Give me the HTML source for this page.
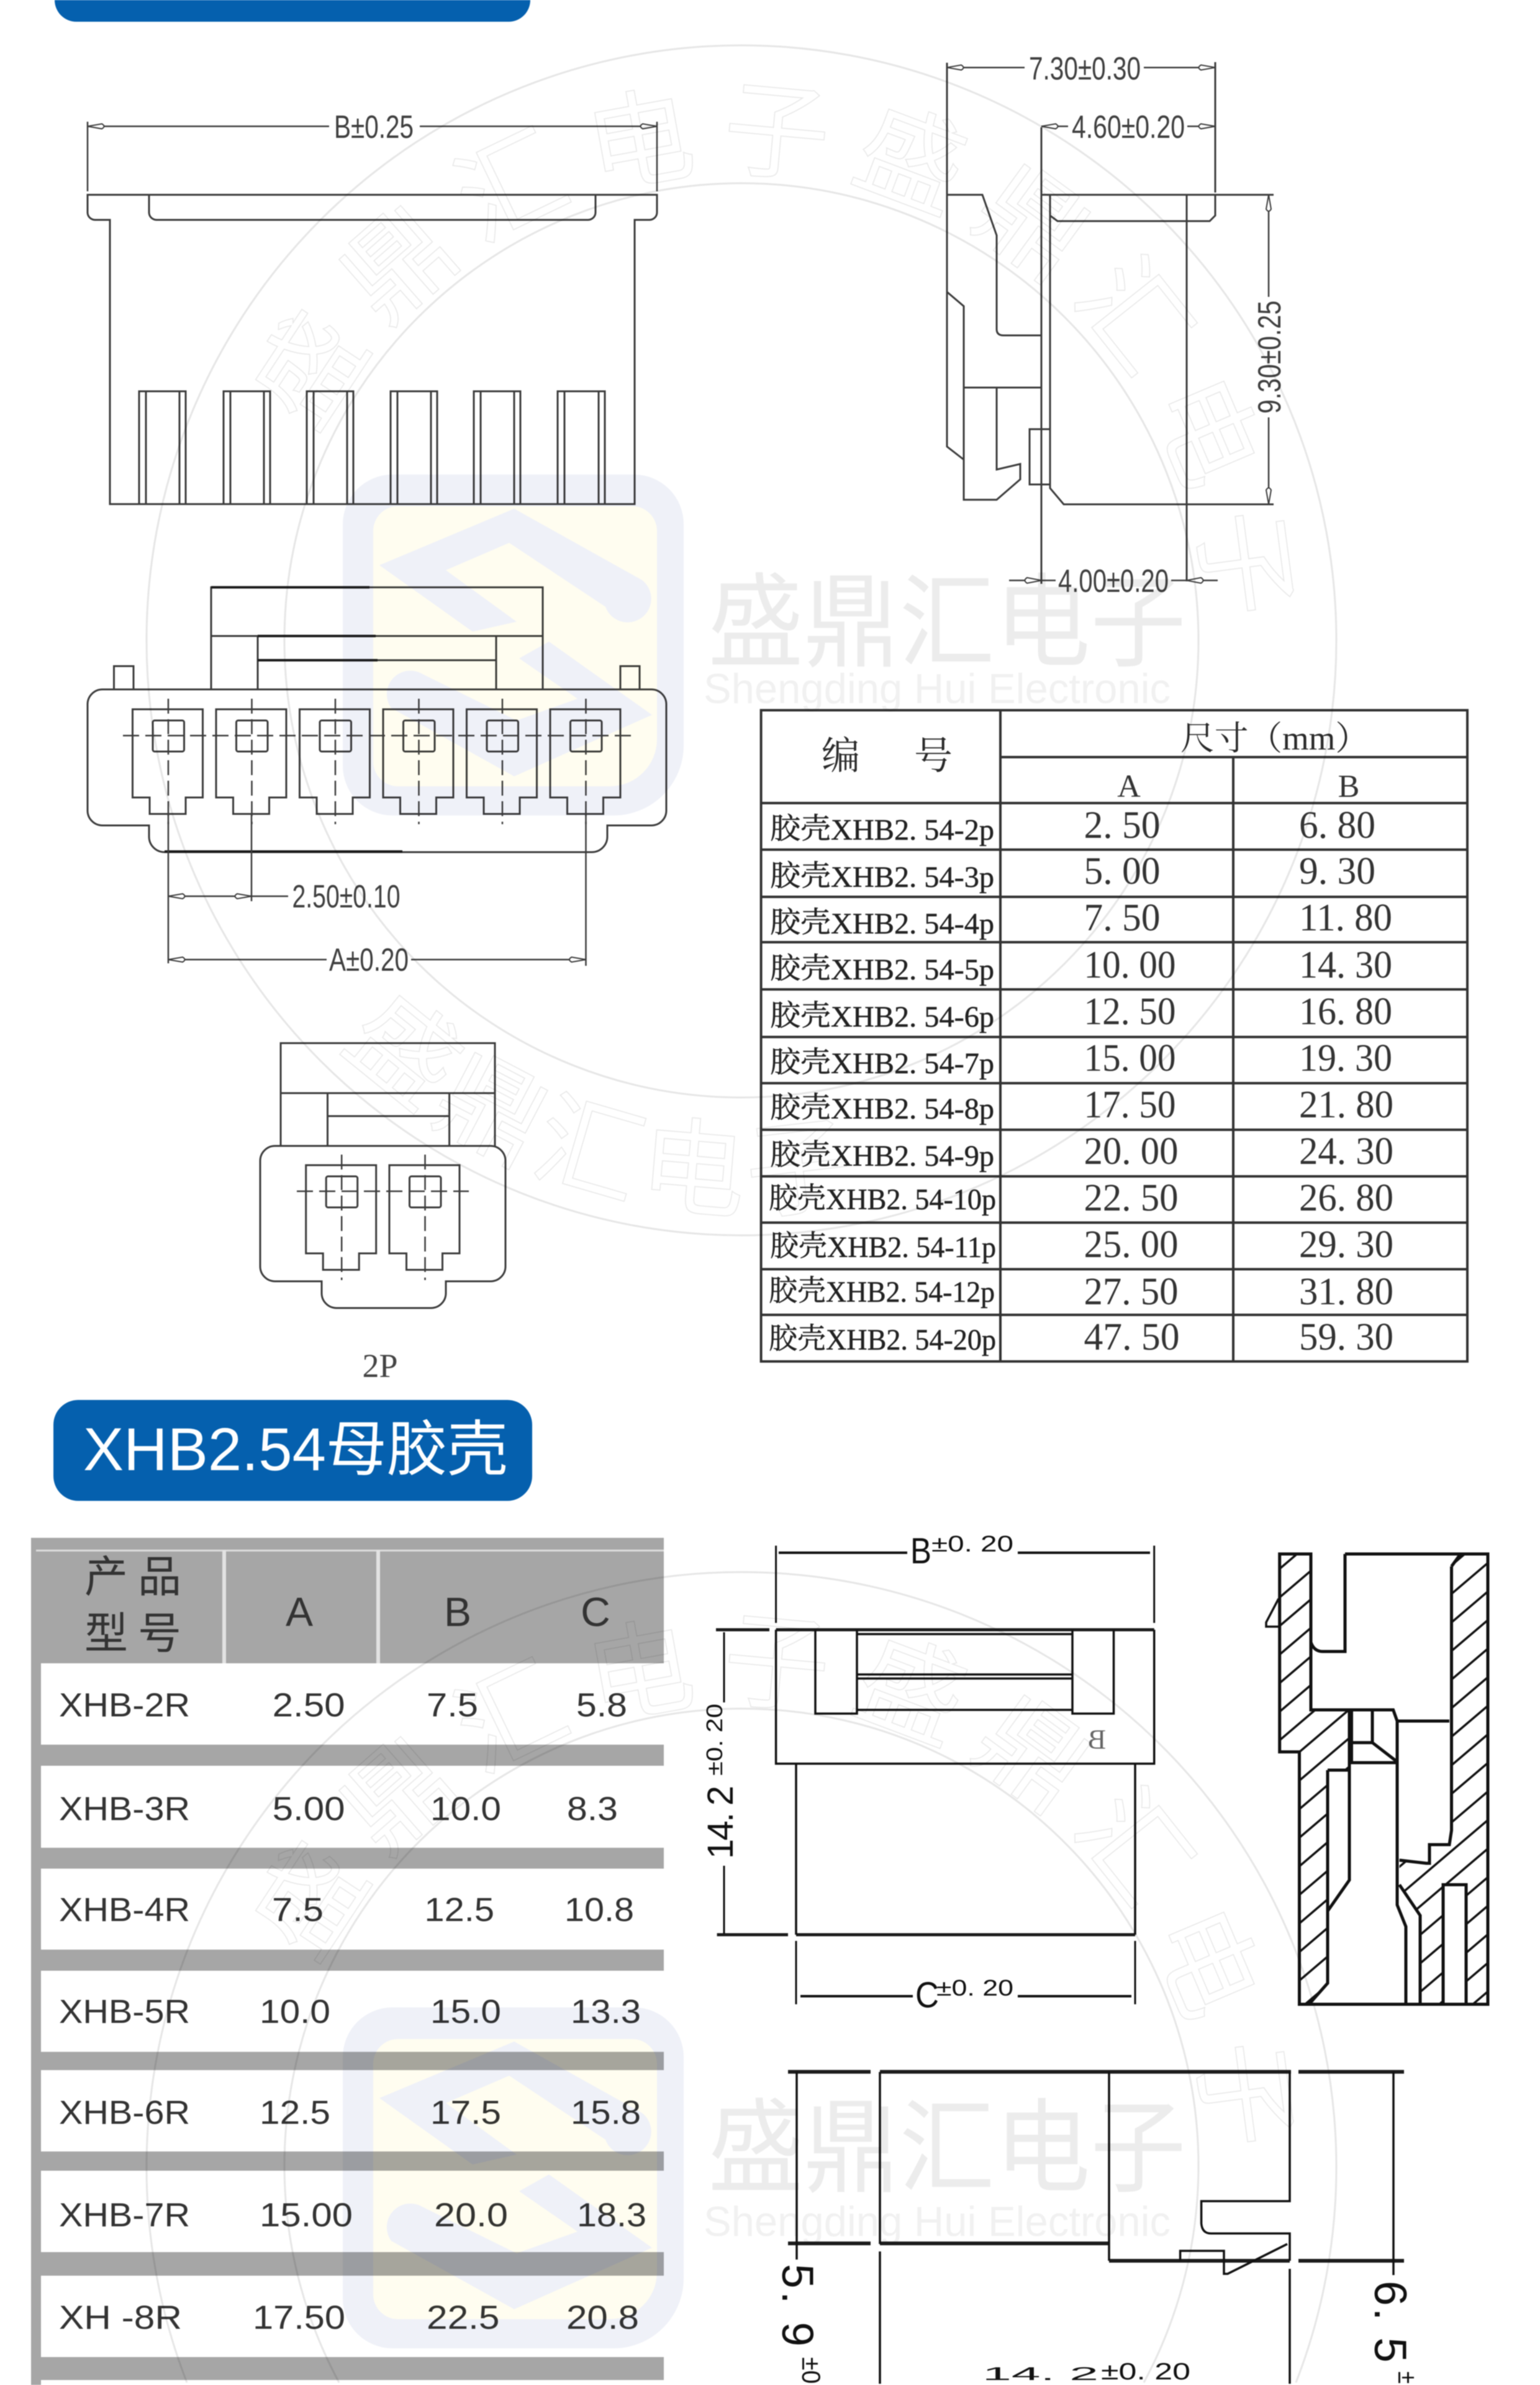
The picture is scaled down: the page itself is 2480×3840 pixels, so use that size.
<!DOCTYPE html>
<html lang="zh"><head><meta charset="utf-8"><title>XHB2.54</title>
<style>
html,body{margin:0;padding:0;background:#fff;width:2480px;height:3840px;overflow:hidden}
svg{display:block;filter:blur(.7px)}
.l{fill:none;stroke:#3c3c3c;stroke-width:3}
.d{fill:none;stroke:#3c3c3c;stroke-width:2.5}
.k{fill:none;stroke:#111;stroke-width:4}
.kk{fill:none;stroke:#1c1c1c;stroke-width:6}
.dim{font-family:"Liberation Sans",sans-serif;font-size:52px;fill:#3f3f3f}
.c{font-family:"Liberation Serif","Noto Serif CJK SC",serif;fill:#2a2a2a}
.cj{font-family:"Liberation Serif","Noto Serif CJK SC",serif;font-size:47px;fill:#222;stroke:#222;stroke-width:.6}
.la{font-family:"Liberation Serif",serif;font-size:48px;fill:#222;stroke:#222;stroke-width:.5}
.n{font-family:"Liberation Serif",serif;font-size:62px;fill:#333}
.t{font-family:"Liberation Sans",sans-serif;font-size:54px;fill:#333}
.h{font-family:"Liberation Sans",sans-serif;font-size:66px;fill:#333}
.hc{font-family:"Liberation Sans","Noto Sans CJK SC",sans-serif;font-size:70px;fill:#333}
.m{font-family:"Liberation Sans",sans-serif;fill:#111}
.wm{mix-blend-mode:multiply}
.wt{font-family:"Liberation Sans","Noto Sans CJK SC",sans-serif;font-size:165px;fill:#ececec}
.we{font-family:"Liberation Sans",sans-serif;font-size:68px;fill:#f1f1f1}
.wr{font-family:"Noto Sans CJK SC",sans-serif;font-size:170px;fill:none;stroke:#e8e8e8;stroke-width:1.6}
.wc{fill:none;stroke:#e6e6e6;stroke-width:3}
</style></head><body>
<svg xmlns="http://www.w3.org/2000/svg" width="2480" height="3840" viewBox="0 0 2480 3840">
<defs>
<marker id="a" markerUnits="userSpaceOnUse" markerWidth="34" markerHeight="14" refX="32" refY="7" orient="auto-start-reverse"><path d="M32 7 L9 3 Q2 7 9 11 Z" fill="#fff" stroke="#3c3c3c" stroke-width="2"/></marker>
<g id="cell">
<path class="l" d="M213.5 1142 h113 v142 h-27.5 v26.5 h-58 v-26.5 h-27.5 z"/>
<rect class="l" x="246" y="1160" width="50.5" height="50" rx="3"/>
<path class="d" d="M271 1125 V1327" stroke-dasharray="24 9"/>
</g>
<clipPath id="h1"><path d="M2060.7 2502 H2111 V2753 H2173 V2850 H2138 V3193 L2108 3227 H2092.5 V2820.6 H2060.7 Z"/></clipPath>
<clipPath id="h2"><path d="M2337.5 2522 L2352 2502 H2396 V3227 H2361 V3034 H2324 V3227 H2287 V3084 L2253.6 3034.5 V2995 L2297 3000 H2302 V2970 H2334 L2337.5 2947 Z"/></clipPath>
</defs>
<rect width="2480" height="3840" fill="#fff"/>

<!-- top banner -->
<path d="M88 0 H854 A35 35 0 0 1 819 35 H123 A35 35 0 0 1 88 0 Z" fill="#0560ae"/>

<!-- front view -->
<path class="l" d="M141 313.6 H1058 V342 a12 12 0 0 1 -12 12 H1022 V811.6 H177 V354 H153 a12 12 0 0 1 -12 -12 z"/>
<path class="l" d="M240 313.6 V342 a12 12 0 0 0 12 12 H947 a12 12 0 0 0 12 -12 V313.6"/>
<path class="l" d="M224 811 V630 H299 V811 M235 630 V811 M289 630 V811 M360 811 V630 H435 V811 M371 630 V811 M425 630 V811 M494 811 V630 H569 V811 M505 630 V811 M559 630 V811 M629 811 V630 H704 V811 M640 630 V811 M694 630 V811 M763 811 V630 H838 V811 M774 630 V811 M828 630 V811 M898 811 V630 H974 V811 M909 630 V811 M964 630 V811"/>
<path class="d" d="M141 196 V308 M1058 196 V308"/>
<line class="d" x1="141" y1="203.4" x2="530" y2="203.4" marker-start="url(#a)"/>
<line class="d" x1="676" y1="203.4" x2="1058" y2="203.4" marker-end="url(#a)"/>
<text class="dim" x="538" y="222" textLength="128" lengthAdjust="spacingAndGlyphs">B±0.25</text>

<!-- side view -->
<path class="l" d="M1525 101 V719 L1552 740 M1525 470 L1552 493 V804.6 H1605 L1643 771.7 V747 L1605 756 V624 M1552 624 H1677"/>
<path class="l" d="M1525 313.6 H1582 L1605 379 V530 Q1605 540 1616 540 H1677"/>
<path class="l" d="M1677 205 V940 M1677 313.6 H2051 M1691 313.6 V786 L1713 812 H2051 M1691 347 L1703 356 H1948 L1957 347 V313.6 M1911 313.6 V936"/>
<path class="l" d="M1957 100 V310"/>
<rect class="l" x="1658" y="691" width="33" height="89" fill="#fff"/>
<line class="d" x1="1525" y1="108.7" x2="1650" y2="108.7" marker-start="url(#a)"/>
<line class="d" x1="1842" y1="108.7" x2="1957" y2="108.7" marker-end="url(#a)"/>
<text class="dim" x="1657" y="128" textLength="180" lengthAdjust="spacingAndGlyphs">7.30±0.30</text>
<line class="d" x1="1677" y1="203.4" x2="1720" y2="203.4" marker-start="url(#a)"/>
<line class="d" x1="1912" y1="203.4" x2="1957" y2="203.4" marker-end="url(#a)"/>
<text class="dim" x="1726" y="222" textLength="182" lengthAdjust="spacingAndGlyphs">4.60±0.20</text>
<line class="d" x1="2043" y1="313.6" x2="2043" y2="478" marker-start="url(#a)"/>
<line class="d" x1="2043" y1="672" x2="2043" y2="812" marker-end="url(#a)"/>
<text class="dim" transform="translate(2062 666) rotate(-90)" textLength="182" lengthAdjust="spacingAndGlyphs">9.30±0.25</text>
<line class="d" x1="1625" y1="934.5" x2="1677" y2="934.5"/>
<path d="M1677 934.5 L1654 930 Q1647 934.5 1654 939 Z" fill="#fff" stroke="#3c3c3c" stroke-width="2"/>
<line class="d" x1="1677" y1="934.5" x2="1700" y2="934.5"/>
<line class="d" x1="1886" y1="934.5" x2="1961" y2="934.5"/>
<path d="M1911 934.5 L1934 930 Q1941 934.5 1934 939 Z" fill="#fff" stroke="#3c3c3c" stroke-width="2"/>
<text class="dim" x="1704" y="953" textLength="178" lengthAdjust="spacingAndGlyphs">4.00±0.20</text>

<!-- end view 6P -->
<path class="l" d="M340 1110 V945.6 H874 V1110 M340 1024 H874 M415 1110 V1024 M799 1110 V1024 M415 1063 H799"/>
<path class="l" d="M183.5 1110 V1072.5 H215 V1110 M999 1110 V1072.5 H1030 V1110"/>
<path class="l" d="M165 1110 H1049 a24 24 0 0 1 24 24 V1305 a24 24 0 0 1 -24 24 H978 V1347 a25 25 0 0 1 -25 25 H265 a25 25 0 0 1 -25 -25 V1329 H165 a24 24 0 0 1 -24 -24 V1134 a24 24 0 0 1 24 -24 z"/>
<path class="kk" style="stroke-width:4" d="M265 1371 H648 M340 945.6 H595 M415 1024 H605 M415 1063 H608"/>
<use href="#cell"/><use href="#cell" x="134.5"/><use href="#cell" x="269"/><use href="#cell" x="403.5"/><use href="#cell" x="538"/><use href="#cell" x="672.5"/>
<path class="d" d="M198 1184.4 H1016" stroke-dasharray="26 10"/>
<path class="d" d="M271 1310 V1551 M405 1310 V1451 M943.5 1310 V1555"/>
<line class="d" x1="271" y1="1443" x2="405" y2="1443" marker-start="url(#a)" marker-end="url(#a)"/>
<line class="d" x1="405" y1="1443" x2="464" y2="1443"/>
<text class="dim" x="470.5" y="1461" textLength="174" lengthAdjust="spacingAndGlyphs">2.50±0.10</text>
<line class="d" x1="271" y1="1545" x2="526" y2="1545" marker-start="url(#a)"/>
<line class="d" x1="662" y1="1545" x2="943.5" y2="1545" marker-end="url(#a)"/>
<text class="dim" x="530" y="1563" textLength="128" lengthAdjust="spacingAndGlyphs">A±0.20</text>

<!-- end view 2P -->
<path class="l" d="M452 1845 V1679.5 H797 V1845 M452 1760 H797 M527.5 1845 V1760 M723.6 1845 V1760 M527.5 1797 H723.6"/>
<path class="l" d="M443 1845 H790 a24 24 0 0 1 24 24 V2039 a24 24 0 0 1 -24 24 H718 V2082 a24 24 0 0 1 -24 24 H542 a24 24 0 0 1 -24 -24 V2063 H443 a24 24 0 0 1 -24 -24 V1869 a24 24 0 0 1 24 -24 z"/>
<use href="#cell" x="279.2" y="734"/><use href="#cell" x="413.5" y="734"/>
<path class="d" d="M478 1918 H755" stroke-dasharray="26 10"/>
<text x="612" y="2217" text-anchor="middle" font-family="Liberation Serif, serif" font-size="54" fill="#444">2P</text>

<!-- size table -->
<g style="fill:none;stroke:#333;stroke-width:4">
<rect x="1225.6" y="1143.5" width="1137.4" height="1048.5"/>
<path d="M1611 1143.5 V2192 M1986 1219 V2192 M1611 1219 H2363 M1225.6 1293 H2363 M1225.6 1368 H2363 M1225.6 1444 H2363 M1225.6 1517 H2363 M1225.6 1593 H2363 M1225.6 1669.6 H2363 M1225.6 1744 H2363 M1225.6 1819 H2363 M1225.6 1894 H2363 M1225.6 1968.5 H2363 M1225.6 2043.5 H2363 M1225.6 2117 H2363"/>
</g>
<text class="c" font-size="62" x="1323" y="1238">编</text>
<text class="c" font-size="62" x="1472" y="1238">号</text>
<text class="c" font-size="54" x="1901" y="1207" textLength="304" lengthAdjust="spacingAndGlyphs">尺寸（mm）</text>
<text class="n" style="font-size:52px" x="1818" y="1283" text-anchor="middle">A</text>
<text class="n" style="font-size:52px" x="2172" y="1283" text-anchor="middle">B</text>

<g>
<text class="cj" x="1240" y="1350" textLength="98" lengthAdjust="spacingAndGlyphs">胶壳</text><text class="la" x="1338" y="1352" textLength="263" lengthAdjust="spacingAndGlyphs" xml:space="preserve">XHB2. 54-2p</text>
<text class="cj" x="1240" y="1426" textLength="98" lengthAdjust="spacingAndGlyphs">胶壳</text><text class="la" x="1338" y="1428" textLength="263" lengthAdjust="spacingAndGlyphs" xml:space="preserve">XHB2. 54-3p</text>
<text class="cj" x="1240" y="1501" textLength="98" lengthAdjust="spacingAndGlyphs">胶壳</text><text class="la" x="1338" y="1503" textLength="263" lengthAdjust="spacingAndGlyphs" xml:space="preserve">XHB2. 54-4p</text>
<text class="cj" x="1240" y="1575" textLength="98" lengthAdjust="spacingAndGlyphs">胶壳</text><text class="la" x="1338" y="1577" textLength="263" lengthAdjust="spacingAndGlyphs" xml:space="preserve">XHB2. 54-5p</text>
<text class="cj" x="1240" y="1651" textLength="98" lengthAdjust="spacingAndGlyphs">胶壳</text><text class="la" x="1338" y="1653" textLength="263" lengthAdjust="spacingAndGlyphs" xml:space="preserve">XHB2. 54-6p</text>
<text class="cj" x="1240" y="1726" textLength="98" lengthAdjust="spacingAndGlyphs">胶壳</text><text class="la" x="1338" y="1728" textLength="263" lengthAdjust="spacingAndGlyphs" xml:space="preserve">XHB2. 54-7p</text>
<text class="cj" x="1240" y="1799" textLength="98" lengthAdjust="spacingAndGlyphs">胶壳</text><text class="la" x="1338" y="1801" textLength="263" lengthAdjust="spacingAndGlyphs" xml:space="preserve">XHB2. 54-8p</text>
<text class="cj" x="1240" y="1875" textLength="98" lengthAdjust="spacingAndGlyphs">胶壳</text><text class="la" x="1338" y="1877" textLength="263" lengthAdjust="spacingAndGlyphs" xml:space="preserve">XHB2. 54-9p</text>
<text class="cj" x="1238" y="1945" textLength="92" lengthAdjust="spacingAndGlyphs">胶壳</text><text class="la" x="1330" y="1947" textLength="274" lengthAdjust="spacingAndGlyphs" xml:space="preserve">XHB2. 54-10p</text>
<text class="cj" x="1240" y="2022" textLength="92" lengthAdjust="spacingAndGlyphs">胶壳</text><text class="la" x="1332" y="2024" textLength="272" lengthAdjust="spacingAndGlyphs" xml:space="preserve">XHB2. 54-11p</text>
<text class="cj" x="1238" y="2094" textLength="92" lengthAdjust="spacingAndGlyphs">胶壳</text><text class="la" x="1330" y="2096" textLength="272" lengthAdjust="spacingAndGlyphs" xml:space="preserve">XHB2. 54-12p</text>
<text class="cj" x="1238" y="2171" textLength="92" lengthAdjust="spacingAndGlyphs">胶壳</text><text class="la" x="1330" y="2173" textLength="274" lengthAdjust="spacingAndGlyphs" xml:space="preserve">XHB2. 54-20p</text>
</g>
<g>
<text class="n" x="1745.5" y="1349" textLength="123" lengthAdjust="spacingAndGlyphs" xml:space="preserve">2. 50</text><text class="n" x="2092" y="1349" textLength="123" lengthAdjust="spacingAndGlyphs" xml:space="preserve">6. 80</text>
<text class="n" x="1745.5" y="1423" textLength="123" lengthAdjust="spacingAndGlyphs" xml:space="preserve">5. 00</text><text class="n" x="2092" y="1423" textLength="123" lengthAdjust="spacingAndGlyphs" xml:space="preserve">9. 30</text>
<text class="n" x="1745.5" y="1498" textLength="123" lengthAdjust="spacingAndGlyphs" xml:space="preserve">7. 50</text><text class="n" x="2092" y="1498" textLength="150" lengthAdjust="spacingAndGlyphs" xml:space="preserve">11. 80</text>
<text class="n" x="1745.5" y="1574" textLength="148" lengthAdjust="spacingAndGlyphs" xml:space="preserve">10. 00</text><text class="n" x="2092" y="1574" textLength="150" lengthAdjust="spacingAndGlyphs" xml:space="preserve">14. 30</text>
<text class="n" x="1745.5" y="1649" textLength="148" lengthAdjust="spacingAndGlyphs" xml:space="preserve">12. 50</text><text class="n" x="2092" y="1649" textLength="150" lengthAdjust="spacingAndGlyphs" xml:space="preserve">16. 80</text>
<text class="n" x="1745.5" y="1724" textLength="148" lengthAdjust="spacingAndGlyphs" xml:space="preserve">15. 00</text><text class="n" x="2092" y="1724" textLength="150" lengthAdjust="spacingAndGlyphs" xml:space="preserve">19. 30</text>
<text class="n" x="1745.5" y="1799" textLength="148" lengthAdjust="spacingAndGlyphs" xml:space="preserve">17. 50</text><text class="n" x="2092" y="1799" textLength="152" lengthAdjust="spacingAndGlyphs" xml:space="preserve">21. 80</text>
<text class="n" x="1745.5" y="1874" textLength="152" lengthAdjust="spacingAndGlyphs" xml:space="preserve">20. 00</text><text class="n" x="2092" y="1874" textLength="152" lengthAdjust="spacingAndGlyphs" xml:space="preserve">24. 30</text>
<text class="n" x="1745.5" y="1949" textLength="152" lengthAdjust="spacingAndGlyphs" xml:space="preserve">22. 50</text><text class="n" x="2092" y="1949" textLength="152" lengthAdjust="spacingAndGlyphs" xml:space="preserve">26. 80</text>
<text class="n" x="1745.5" y="2024" textLength="152" lengthAdjust="spacingAndGlyphs" xml:space="preserve">25. 00</text><text class="n" x="2092" y="2024" textLength="152" lengthAdjust="spacingAndGlyphs" xml:space="preserve">29. 30</text>
<text class="n" x="1745.5" y="2100" textLength="152" lengthAdjust="spacingAndGlyphs" xml:space="preserve">27. 50</text><text class="n" x="2092" y="2100" textLength="152" lengthAdjust="spacingAndGlyphs" xml:space="preserve">31. 80</text>
<text class="n" x="1745.5" y="2173" textLength="154" lengthAdjust="spacingAndGlyphs" xml:space="preserve">47. 50</text><text class="n" x="2092" y="2173" textLength="152" lengthAdjust="spacingAndGlyphs" xml:space="preserve">59. 30</text>
</g>

<!-- second banner -->
<rect x="86" y="2254" width="771" height="162.5" rx="40" fill="#0560ae"/>
<text x="134" y="2367" font-family="Liberation Sans, Noto Sans CJK SC, sans-serif" font-size="97" fill="#fff" textLength="684" lengthAdjust="spacingAndGlyphs">XHB2.54母胶壳</text>

<!-- left product table -->
<rect x="50" y="2476" width="1019" height="1364" fill="#a6a6a6"/>
<rect x="66" y="2678" width="1003" height="131" fill="#fff"/>
<rect x="66" y="2843" width="1003" height="132" fill="#fff"/>
<rect x="66" y="3008.6" width="1003" height="130.4" fill="#fff"/>
<rect x="66" y="3173" width="1003" height="130.6" fill="#fff"/>
<rect x="66" y="3333" width="1003" height="131" fill="#fff"/>
<rect x="66" y="3495" width="1003" height="131" fill="#fff"/>
<rect x="66" y="3664" width="1003" height="131" fill="#fff"/>
<rect x="66" y="3832" width="1003" height="8" fill="#fff"/>
<rect x="58" y="2495" width="1011" height="3" fill="#dcdcdc"/>
<rect x="358" y="2496" width="6" height="182" fill="#e2e2e2"/>
<rect x="606" y="2496" width="6" height="182" fill="#e2e2e2"/>
<text class="hc" x="136" y="2563">产</text><text class="hc" x="222" y="2563">品</text>
<text class="hc" x="136" y="2654">型</text><text class="hc" x="222" y="2654">号</text>
<text class="h" x="482" y="2618" text-anchor="middle">A</text>
<text class="h" x="737" y="2618" text-anchor="middle">B</text>
<text class="h" x="959" y="2618" text-anchor="middle">C</text>
<g>
<text class="t" x="95" y="2763.5" textLength="211" lengthAdjust="spacingAndGlyphs">XHB-2R</text><text class="t" x="438.6" y="2763.5" textLength="117" lengthAdjust="spacingAndGlyphs">2.50</text><text class="t" x="687" y="2763.5" textLength="83" lengthAdjust="spacingAndGlyphs">7.5</text><text class="t" x="928" y="2763.5" textLength="82" lengthAdjust="spacingAndGlyphs">5.8</text>
<text class="t" x="95" y="2930.5" textLength="211" lengthAdjust="spacingAndGlyphs">XHB-3R</text><text class="t" x="438.6" y="2930.5" textLength="117" lengthAdjust="spacingAndGlyphs">5.00</text><text class="t" x="693" y="2930.5" textLength="114" lengthAdjust="spacingAndGlyphs">10.0</text><text class="t" x="913" y="2930.5" textLength="82" lengthAdjust="spacingAndGlyphs">8.3</text>
<text class="t" x="95" y="3093" textLength="211" lengthAdjust="spacingAndGlyphs">XHB-4R</text><text class="t" x="438" y="3093" textLength="83" lengthAdjust="spacingAndGlyphs">7.5</text><text class="t" x="683.5" y="3093" textLength="112.5" lengthAdjust="spacingAndGlyphs">12.5</text><text class="t" x="909" y="3093" textLength="112" lengthAdjust="spacingAndGlyphs">10.8</text>
<text class="t" x="95" y="3257" textLength="211" lengthAdjust="spacingAndGlyphs">XHB-5R</text><text class="t" x="418" y="3257" textLength="114" lengthAdjust="spacingAndGlyphs">10.0</text><text class="t" x="693" y="3257" textLength="114" lengthAdjust="spacingAndGlyphs">15.0</text><text class="t" x="919" y="3257" textLength="113" lengthAdjust="spacingAndGlyphs">13.3</text>
<text class="t" x="95" y="3419.5" textLength="211" lengthAdjust="spacingAndGlyphs">XHB-6R</text><text class="t" x="418" y="3419.5" textLength="114" lengthAdjust="spacingAndGlyphs">12.5</text><text class="t" x="693" y="3419.5" textLength="114" lengthAdjust="spacingAndGlyphs">17.5</text><text class="t" x="919" y="3419.5" textLength="113" lengthAdjust="spacingAndGlyphs">15.8</text>
<text class="t" x="95" y="3584.5" textLength="211" lengthAdjust="spacingAndGlyphs">XHB-7R</text><text class="t" x="418" y="3584.5" textLength="150" lengthAdjust="spacingAndGlyphs">15.00</text><text class="t" x="699" y="3584.5" textLength="119" lengthAdjust="spacingAndGlyphs">20.0</text><text class="t" x="929" y="3584.5" textLength="112" lengthAdjust="spacingAndGlyphs">18.3</text>
<text class="t" x="95" y="3749.5" textLength="198" lengthAdjust="spacingAndGlyphs" xml:space="preserve">XH -8R</text><text class="t" x="407" y="3749.5" textLength="149" lengthAdjust="spacingAndGlyphs">17.50</text><text class="t" x="687" y="3749.5" textLength="117.5" lengthAdjust="spacingAndGlyphs">22.5</text><text class="t" x="912" y="3749.5" textLength="117" lengthAdjust="spacingAndGlyphs">20.8</text>
</g>

<!-- female top view -->
<path class="k" style="stroke-width:3" d="M1249.6 2488.6 V2613 M1858.7 2488.6 V2613 M1282 3125 V3227 M1828 3125 V3227"/>
<path class="k" d="M1254 2500 H1461 M1639 2500 H1852 M1289 3214 H1470 M1639 3214 H1822"/>
<text class="m" x="1466" y="2517" font-size="58" textLength="34" lengthAdjust="spacingAndGlyphs">B</text>
<text class="m" x="1500" y="2498" font-size="36" textLength="132" lengthAdjust="spacingAndGlyphs">±0. 20</text>
<text class="m" x="1474" y="3232" font-size="58" textLength="38" lengthAdjust="spacingAndGlyphs">C</text>
<text class="m" x="1508" y="3213" font-size="36" textLength="124" lengthAdjust="spacingAndGlyphs">±0. 20</text>
<path class="kk" style="stroke-width:5" d="M1153 2624 H1239 M1249.6 2624 H1858.7 M1154.6 3115 H1269 M1282 3115 H1828"/>
<path class="k" style="stroke-width:3.5" d="M1249.6 2624 V2839.6 H1858.7 V2624 M1282 2839.6 V3115 M1828 2839.6 V3115"/>
<path class="k" style="stroke-width:3.5" d="M1313 2624 V2759 H1380 V2624 M1727 2624 V2759 H1793.5 V2624 M1380 2631 H1727 M1380 2696 H1727 M1380 2702.5 H1727 M1380 2753 H1727"/>
<text transform="translate(1781 2815) scale(-1 1)" font-family="Liberation Serif, serif" font-size="44" fill="#666">B</text>
<path class="k" style="stroke-width:3" d="M1166 2628 V2741 M1166 3004 V3114"/>
<text class="m" transform="translate(1180 2993) rotate(-90)" font-size="58" textLength="118" lengthAdjust="spacing" xml:space="preserve">14. 2</text>
<text class="m" transform="translate(1163 2859) rotate(-90)" font-size="36" textLength="116" lengthAdjust="spacingAndGlyphs">±0. 20</text>

<!-- section view -->
<g clip-path="url(#h1)"><path class="k" style="stroke-width:3.5" d="M2050 2535 L2400 2237 M2050 2581 L2400 2283 M2050 2627 L2400 2329 M2050 2673 L2400 2375 M2050 2719 L2400 2421 M2050 2765 L2400 2467 M2050 2811 L2400 2513 M2050 2857 L2400 2559 M2050 2903 L2400 2605 M2050 2949 L2400 2651 M2050 2995 L2400 2697 M2050 3041 L2400 2743 M2050 3087 L2400 2789 M2050 3133 L2400 2835 M2050 3179 L2400 2881 M2050 3225 L2400 2927 M2050 3271 L2400 2973 M2050 3317 L2400 3019 M2050 3363 L2400 3065 M2050 3409 L2400 3111 M2050 3455 L2400 3157 M2050 3501 L2400 3203 M2050 3547 L2400 3249"/></g>
<g clip-path="url(#h2)"><path class="k" style="stroke-width:3.5" d="M2050 2535 L2400 2237 M2050 2581 L2400 2283 M2050 2627 L2400 2329 M2050 2673 L2400 2375 M2050 2719 L2400 2421 M2050 2765 L2400 2467 M2050 2811 L2400 2513 M2050 2857 L2400 2559 M2050 2903 L2400 2605 M2050 2949 L2400 2651 M2050 2995 L2400 2697 M2050 3041 L2400 2743 M2050 3087 L2400 2789 M2050 3133 L2400 2835 M2050 3179 L2400 2881 M2050 3225 L2400 2927 M2050 3271 L2400 2973 M2050 3317 L2400 3019 M2050 3363 L2400 3065 M2050 3409 L2400 3111 M2050 3455 L2400 3157 M2050 3501 L2400 3203 M2050 3547 L2400 3249"/></g>
<path class="k" style="stroke-width:5" d="M2166 2502 H2396 V3227 H2092.5 V2820.6 H2060.7 V2502 H2111 V2753 H2243.6 L2250 2771 H2334 M2337.5 2522 L2352 2502"/>
<path class="k" style="stroke-width:5" d="M2111 2644 Q2116 2659 2130 2659 H2166 V2502"/>
<path class="k" style="stroke-width:5" d="M2337.5 2522 V2947 L2334 2970 H2302 V3000 H2297 L2253.6 2995"/>
<path class="k" style="stroke-width:5" d="M2250 2771 V3067 L2264 3102 V3227"/>
<path class="k" style="stroke-width:5" d="M2253.6 3034.5 L2287 3084 V3227 M2324 3227 V3034.5 H2361 V3227"/>
<path class="k" style="stroke-width:5" d="M2138 2850 H2173 M2138 2850 V3193 L2108 3227 M2173 2753 V3027 L2138 3077 M2176.5 2753 V2838 H2250 M2210 2753 V2805.7 L2248.6 2835.5 M2175 2805.7 H2210"/>
<path class="k" style="stroke-width:3.5" d="M2059 2574 L2039 2612 V2619 H2060"/>

<!-- side view lower -->
<path class="kk" style="stroke-width:6" d="M1269 3335.7 H1402 M1417 3335.7 H2079 M2091 3335.7 H2261 M1269 3612 H1402 M1417 3612 H1786 M1786 3640 H2077 M2091 3640 H2261"/>
<path class="k" style="stroke-width:3.5" d="M1283 3336 V3638 M1417 3336 V3613 M1417 3625 V3838 M1786 3336 V3640 M2077 3336 V3544 H1934.6 V3580 Q1936 3596 1950 3596 H2077 V3640 M2077 3653 V3838 M2244 3336 V3663"/>
<path class="k" style="stroke-width:3.5" d="M1900.6 3640 V3624 H1971 V3661 H1977 L2073 3613"/>
<text class="m" transform="translate(1260 3645) rotate(90)" font-size="71" textLength="133" lengthAdjust="spacing" xml:space="preserve">5. 9</text>
<text class="m" transform="translate(1292 3795) rotate(90)" font-size="42" textLength="43" lengthAdjust="spacingAndGlyphs">±0</text>
<text class="m" transform="translate(2214 3672) rotate(90)" font-size="73" textLength="132" lengthAdjust="spacing" xml:space="preserve">6. 5</text>
<text class="m" transform="translate(2252 3818) rotate(90)" font-size="42" textLength="20" lengthAdjust="spacingAndGlyphs">±</text>
<text class="m" x="1582" y="3832" font-size="30" textLength="187" lengthAdjust="spacingAndGlyphs" xml:space="preserve">14. 2</text>
<text class="m" x="1773" y="3831" font-size="38" textLength="144" lengthAdjust="spacingAndGlyphs">±0. 20</text>

<!-- watermark 1 -->
<g class="wm">
<path d="M632 764 H1021 a80 80 0 0 1 80 80 V1200 a113 113 0 0 1 -113 113 H632 a80 80 0 0 1 -80 -80 V844 a80 80 0 0 1 80 -80 z" fill="#eff1f8"/>
<path d="M641 815 H1018 a40 40 0 0 1 40 40 V1190 a76 76 0 0 1 -76 76 H641 a40 40 0 0 1 -40 -40 V855 a40 40 0 0 1 40 -40 z" fill="#fffdf0"/>
<path d="M611 910 L828 819 L1034 934 A38 38 0 1 1 975 977 L820 874 L718 918 L832 1001 L761 1017 Z" fill="#eff1f8"/>
<path d="M836 1060 L884 1033 L1050 1151 L828 1250 L630 1140 A38 38 0 0 1 680 1085 L832 1160 L930 1125 Z" fill="#eff1f8"/>
<text class="wt" x="1140" y="1060" textLength="770" lengthAdjust="spacingAndGlyphs">盛鼎汇电子</text>
<text class="we" x="1133" y="1132" textLength="752" lengthAdjust="spacingAndGlyphs">Shengding Hui Electronic</text>
<circle class="wc" cx="1194" cy="1031" r="958"/><circle class="wc" cx="1194" cy="1031" r="736"/>
<path id="r1" fill="none" d="M434 1031 A760 760 0 1 1 1954 1031"/>
<text class="wr" letter-spacing="35"><textPath href="#r1" startOffset="340">盛鼎汇电子盛鼎汇电子盛</textPath></text>
<path id="r1b" fill="none" d="M279 1031 A915 915 0 1 0 2109 1031"/>
<text class="wr" letter-spacing="12"><textPath href="#r1b" startOffset="723">盛鼎汇电子</textPath></text>
</g>
<!-- watermark 2 -->
<g class="wm">
<path d="M632 3232 H1021 a80 80 0 0 1 80 80 V3668 a113 113 0 0 1 -113 113 H632 a80 80 0 0 1 -80 -80 V3312 a80 80 0 0 1 80 -80 z" fill="#eff1f8"/>
<path d="M641 3283 H1018 a40 40 0 0 1 40 40 V3658 a76 76 0 0 1 -76 76 H641 a40 40 0 0 1 -40 -40 V3323 a40 40 0 0 1 40 -40 z" fill="#fffdf0"/>
<path d="M611 3378 L828 3287 L1034 3402 A38 38 0 1 1 975 3445 L820 3342 L718 3386 L832 3469 L761 3485 Z" fill="#eff1f8"/>
<path d="M836 3528 L884 3501 L1050 3619 L828 3718 L630 3608 A38 38 0 0 1 680 3553 L832 3628 L930 3593 Z" fill="#eff1f8"/>
<text class="wt" x="1140" y="3516" textLength="770" lengthAdjust="spacingAndGlyphs">盛鼎汇电子</text>
<text class="we" x="1133" y="3600" textLength="752" lengthAdjust="spacingAndGlyphs">Shengding Hui Electronic</text>
<path class="wc" d="M301 3836 A958 958 0 1 1 2087 3836"/>
<path class="wc" d="M546 3836 A736 736 0 1 1 1842 3836"/>
<path id="r2" fill="none" d="M434 3496 A760 760 0 1 1 1954 3496"/>
<text class="wr" letter-spacing="35"><textPath href="#r2" startOffset="340">盛鼎汇电子盛鼎汇电子盛</textPath></text>
</g>
</svg>
</body></html>
